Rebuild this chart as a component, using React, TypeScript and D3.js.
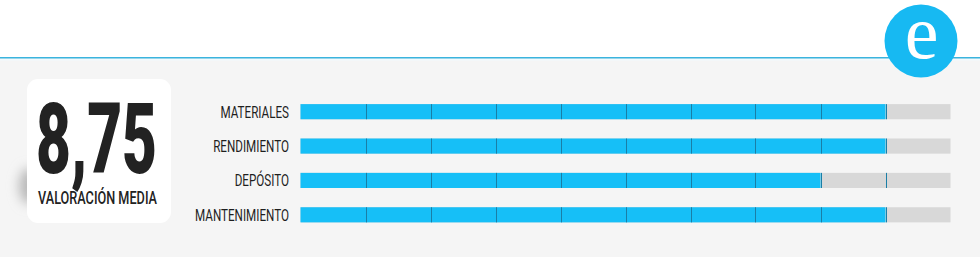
import React, { useLayoutEffect, useRef, useState } from "react";
import * as d3 from "d3";

const categories = ["MATERIALES", "RENDIMIENTO", "DEPÓSITO", "MANTENIMIENTO"];
const values = [9, 9, 8, 9];
const maxValue = 10;
const tickValues = [1, 2, 3, 4, 5, 6, 7, 8, 9];
const averageLabel = "8,75";
const averageCaption = "VALORACIÓN MEDIA";

const W = 980;
const H = 257;

function FitText(props: {
  x: number;
  y: number;
  width: number;
  children: string;
  fontSize: number;
  fontWeight: number;
  fill: string;
}) {
  const ref = useRef<SVGTextElement>(null);
  const [k, setK] = useState(0.62);
  useLayoutEffect(() => {
    if (ref.current) {
      const w = ref.current.getComputedTextLength();
      if (w > 0) setK(props.width / w);
    }
  }, [props.width, props.children]);
  return (
    <text
      ref={ref}
      transform={`translate(${props.x}, ${props.y}) scale(${k}, 1)`}
      fontFamily="Roboto, sans-serif"
      fontWeight={props.fontWeight}
      fontSize={props.fontSize}
      fill={props.fill}
    >
      {props.children}
    </text>
  );
}

export default function App() {
  const x = d3.scaleLinear().domain([0, maxValue]).range([300.5, 950.5]);
  const y = d3.scaleBand<string>().domain(categories).range([94.5, 232]).paddingInner(0.56).paddingOuter(0.28);
  const bh = y.bandwidth();

  return (
    <svg
      width={W}
      height={H}
      style={{ position: "fixed", left: 0, top: 0, display: "block" }}
      xmlns="http://www.w3.org/2000/svg"
    >
      <defs>
        <filter id="blur" x="-100%" y="-100%" width="300%" height="300%">
          <feGaussianBlur stdDeviation="6" />
        </filter>
      </defs>
      <rect x={0} y={0} width={W} height={H} fill="#ffffff" />
      <rect x={0} y={58} width={W} height={H - 58} fill="#f5f5f5" />
      <rect x={0} y={58.5} width={W} height={2} fill="#f2fafd" />
      <rect x={0} y={57} width={W} height={1.5} fill="#3ab4de" />

      {/* card */}
      <ellipse cx={29} cy={186} rx={10} ry={18} fill="#b8b8b8" filter="url(#blur)" />
      <rect x={27} y={79} width={144} height={144} rx={11} fill="#ffffff" />
      <FitText x={36} y={173} width={121} fontSize={98} fontWeight={900} fill="#222222">
        {averageLabel}
      </FitText>
      <FitText x={38} y={204} width={119} fontSize={18} fontWeight={500} fill="#222222">
        {averageCaption}
      </FitText>

      {/* bars */}
      {categories.map((c, i) => {
        const top = y(c)!;
        return (
          <g key={c}>
            <text
              transform={`translate(289, ${top + bh / 2 + 6}) scale(0.67, 1)`}
              textAnchor="end"
              fontFamily="Roboto, sans-serif"
              fontWeight={400}
              fontSize={17.4}
              fill="#1e1e1e"
            >
              {c}
            </text>
            <rect x={x(0)} y={top} width={x(maxValue) - x(0)} height={bh} fill="#d8d8d8" />
            <rect x={x(0)} y={top} width={x(values[i]) - x(0)} height={bh} fill="#16bff7" />
            {tickValues.map((t) => (
              <line
                key={t}
                x1={Math.round(x(t)) + 0.5}
                x2={Math.round(x(t)) + 0.5}
                y1={top}
                y2={top + bh}
                stroke="#1a7ea6"
                strokeWidth={1}
              />
            ))}
          </g>
        );
      })}

      {/* logo */}
      <circle cx={921} cy={41} r={36.5} fill="#17b9f2" />
      <text
        x={921.5}
        y={58}
        textAnchor="middle"
        fontFamily="'Liberation Serif', 'DejaVu Serif', serif"
        fontSize={76}
        fill="#ffffff"
      >
        e
      </text>
    </svg>
  );
}
